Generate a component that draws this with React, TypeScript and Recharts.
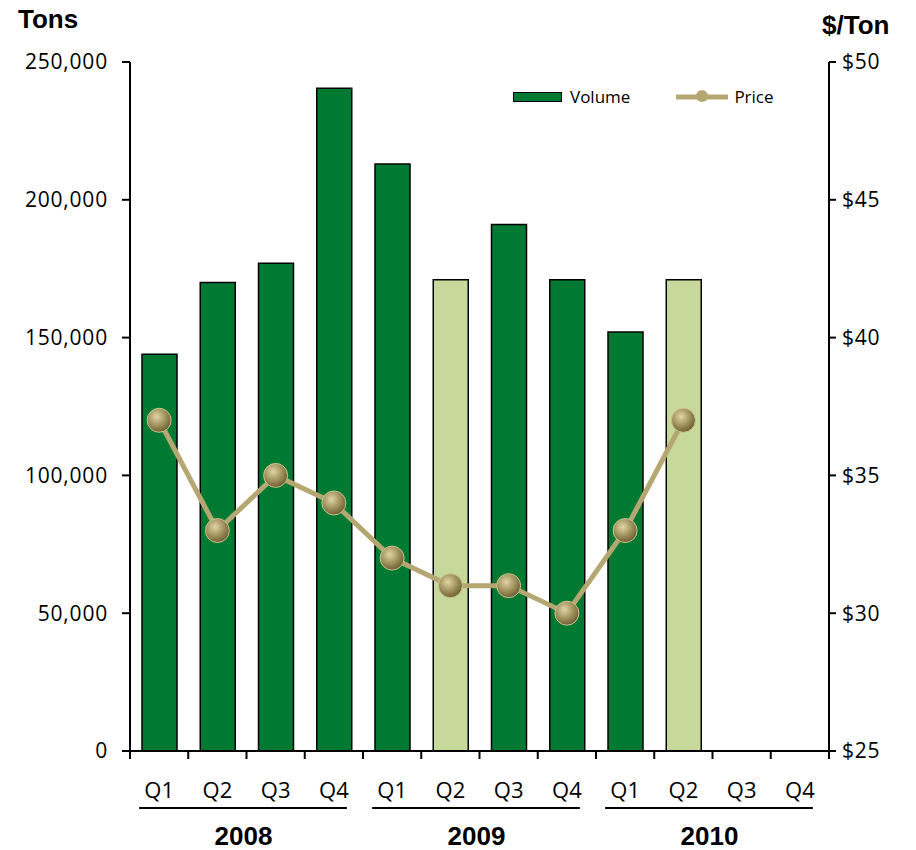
import { ComposedChart, Bar, Line, XAxis, YAxis, Legend, Cell } from "recharts";

const quarters = ["Q1", "Q2", "Q3", "Q4", "Q1", "Q2", "Q3", "Q4", "Q1", "Q2", "Q3", "Q4"];
const years = ["2008", "2009", "2010"];
const volume = [144000, 170000, 177000, 240500, 213000, 171000, 191000, 171000, 152000, 171000, null, null];
const price = [37, 33, 35, 34, 32, 31, 31, 30, 33, 37, null, null];
const estimate = [false, false, false, false, false, true, false, false, false, true, false, false];
const tonsTicks = [0, 50000, 100000, 150000, 200000, 250000];
const priceTicks = [25, 30, 35, 40, 45, 50];

const data = quarters.map((q, i) => ({
  key: `${years[Math.floor(i / 4)]} ${q}`,
  volume: volume[i],
  price: price[i],
  est: estimate[i],
}));

const W = 916;
const H = 850;
const LEFT = 130;
const RIGHT = 829;
const TOP = 62;
const BOTTOM = 751;
const BAND = (RIGHT - LEFT) / quarters.length;

const DARK = "#007A33";
const LIGHT = "#C6D99B";
const GOLD = "#B5A772";
const FONT = "'Open Sans', 'Liberation Sans', sans-serif";
const BOLD = "'Liberation Sans', Arial, sans-serif";

function QuarterTick(props: any) {
  const { x, index } = props;
  const q = quarters[index];
  return (
    <g>
      <line x1={x - BAND / 2} x2={x - BAND / 2} y1={BOTTOM} y2={BOTTOM + 8} stroke="#000" strokeWidth={2} />
      {index === quarters.length - 1 && (
        <line x1={x + BAND / 2} x2={x + BAND / 2} y1={BOTTOM} y2={BOTTOM + 8} stroke="#000" strokeWidth={2} />
      )}
      <text x={x} y={BOTTOM + 38} textAnchor="middle" dominantBaseline="central" fontSize={22} fontFamily={FONT} fill="#000">
        {q}
      </text>
      {index % 4 === 0 && (
        <g>
          <line x1={x - 20} x2={x + 3 * BAND + 13} y1={BOTTOM + 57} y2={BOTTOM + 57} stroke="#000" strokeWidth={2} />
          <text
            x={x + 1.5 * BAND - 3}
            y={BOTTOM + 85}
            textAnchor="middle"
            dominantBaseline="central"
            fontSize={26}
            fontWeight="bold"
            fontFamily={BOLD}
            fill="#000"
          >
            {years[Math.floor(index / 4)]}
          </text>
        </g>
      )}
    </g>
  );
}

function PriceDot(props: any) {
  const { cx, cy, value } = props;
  if (value == null || cx == null || cy == null) return <g />;
  return <circle cx={cx} cy={cy} r={12} fill="url(#dotGrad)" stroke="#CFC38E" strokeWidth={1} />;
}

function LegendBox() {
  return (
    <div style={{ display: "flex", alignItems: "center", fontFamily: FONT, fontSize: 17, color: "#000" }}>
      <span style={{ width: 47, height: 8, background: DARK, border: "1.5px solid #000", display: "inline-block" }} />
      <span style={{ marginLeft: 8 }}>Volume</span>
      <svg width={52} height={16} style={{ marginLeft: 46 }}>
        <line x1={1} x2={51} y1={8} y2={8} stroke={GOLD} strokeWidth={5} strokeLinecap="round" />
        <circle cx={26} cy={7} r={6} fill={GOLD} />
      </svg>
      <span style={{ marginLeft: 6 }}>Price</span>
    </div>
  );
}

export default function App() {
  return (
    <div style={{ position: "absolute", left: 0, top: 0, width: W, height: H, background: "#fff" }}>
      <div style={{ position: "absolute", left: 18, top: 4, fontFamily: BOLD, fontWeight: "bold", fontSize: 26 }}>
        Tons
      </div>
      <div style={{ position: "absolute", left: 822, top: 10, fontFamily: BOLD, fontWeight: "bold", fontSize: 26 }}>
        $/Ton
      </div>
      <ComposedChart width={W} height={H} data={data} margin={{ top: TOP, right: 0, bottom: 0, left: 0 }} barCategoryGap={0}>
        <defs>
          <radialGradient id="dotGrad" cx="40%" cy="35%" r="65%">
            <stop offset="0%" stopColor="#E0D5A8" />
            <stop offset="55%" stopColor="#A39560" />
            <stop offset="100%" stopColor="#6E6034" />
          </radialGradient>
        </defs>
        <XAxis
          dataKey="key"
          interval={0}
          axisLine={{ stroke: "#000", strokeWidth: 2 }}
          tickLine={false}
          tick={<QuarterTick />}
          height={H - BOTTOM}
        />
        <YAxis
          yAxisId="tons"
          orientation="left"
          width={LEFT}
          domain={[0, 250000]}
          ticks={tonsTicks}
          tickFormatter={(v: number) => v.toLocaleString("en-US")}
          axisLine={{ stroke: "#000", strokeWidth: 2 }}
          tickLine={{ stroke: "#000", strokeWidth: 2 }}
          tickSize={8}
          tickMargin={14}
          tick={{ fill: "#000", fontSize: 21, fontFamily: FONT, letterSpacing: 0.8 }}
        />
        <YAxis
          yAxisId="price"
          orientation="right"
          width={W - RIGHT}
          domain={[25, 50]}
          ticks={priceTicks}
          tickFormatter={(v: number) => `$${v}`}
          axisLine={{ stroke: "#000", strokeWidth: 2 }}
          tickLine={{ stroke: "#000", strokeWidth: 2 }}
          tickSize={7}
          tickMargin={6}
          tick={{ fill: "#000", fontSize: 21, fontFamily: FONT, letterSpacing: 0.8 }}
        />
        <Legend
          verticalAlign="middle"
          align="center"
          layout="horizontal"
          content={() => <LegendBox />}
          wrapperStyle={{ position: "absolute", top: 85, left: 513, width: 300 }}
        />
        <Bar yAxisId="tons" dataKey="volume" name="Volume" barSize={35} stroke="#000" strokeWidth={1.5} isAnimationActive={false}>
          {data.map((d, i) => (
            <Cell key={i} fill={d.est ? LIGHT : DARK} />
          ))}
        </Bar>
        <Line
          yAxisId="price"
          dataKey="price"
          name="Price"
          stroke={GOLD}
          strokeWidth={5}
          dot={<PriceDot />}
          activeDot={false}
          isAnimationActive={false}
        />
      </ComposedChart>
    </div>
  );
}
